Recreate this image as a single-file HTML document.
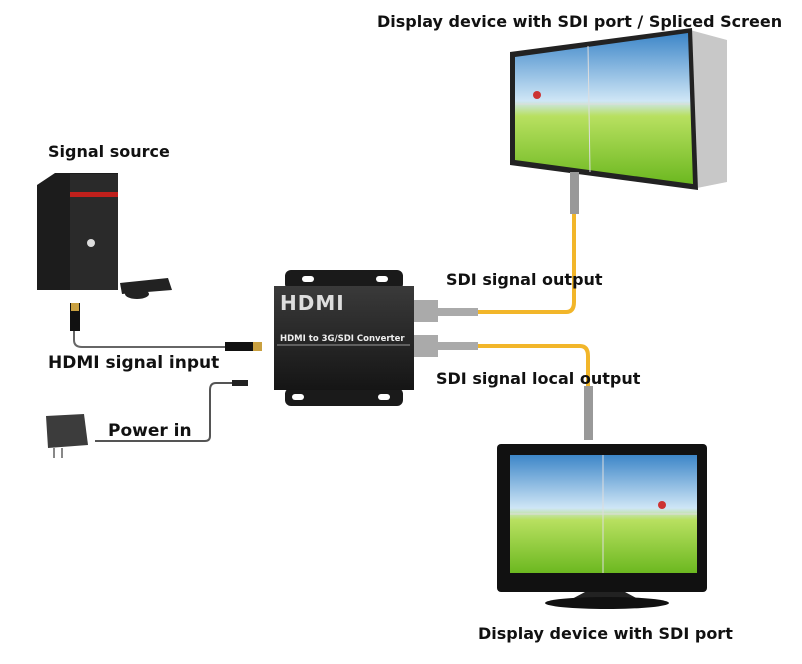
<!DOCTYPE html>
<html><head><meta charset="utf-8"><style>
html,body{margin:0;padding:0;background:#fff;width:802px;height:664px;overflow:hidden}
text{font-family:"DejaVu Sans","Liberation Sans",sans-serif;font-weight:bold;fill:#111}
</style></head><body>
<svg width="802" height="664" viewBox="0 0 802 664" xmlns="http://www.w3.org/2000/svg">
<defs>
<linearGradient id="sky" x1="0" y1="0" x2="0" y2="1">
<stop offset="0" stop-color="#3d86c8"/><stop offset="0.45" stop-color="#cfe6f6"/><stop offset="0.55" stop-color="#b8e060"/><stop offset="1" stop-color="#6cb820"/>
</linearGradient>
<linearGradient id="dev" x1="0" y1="0" x2="0" y2="1">
<stop offset="0" stop-color="#3a3a3a"/><stop offset="1" stop-color="#151515"/>
</linearGradient>
</defs>

<!-- top video wall -->
<polygon points="690,30 727,40 727,182 697,188" fill="#c8c8c8"/>
<polygon points="510,52 692,28 698,190 510,165" fill="#222"/>
<polygon points="515,57 688,33 693,184 515,160" fill="url(#sky)"/>
<line x1="588" y1="46" x2="590" y2="172" stroke="#ddd" stroke-width="1"/>
<line x1="515" y1="104" x2="690" y2="104" stroke="#ddd" stroke-width="1"/>
<circle cx="537" cy="95" r="4" fill="#c33"/>

<!-- yellow cables -->
<path d="M440,312 H566 Q574,312 574,302 V212" fill="none" stroke="#f2b62a" stroke-width="4"/>
<path d="M440,346 H580 Q588,346 588,356 V388" fill="none" stroke="#f2b62a" stroke-width="4"/>
<rect x="570" y="172" width="9" height="42" fill="#999"/>
<rect x="584" y="386" width="9" height="54" fill="#999"/>
<rect x="438" y="308" width="40" height="8" fill="#aaa"/>
<rect x="438" y="342" width="40" height="8" fill="#aaa"/>

<!-- converter -->
<rect x="285" y="270" width="118" height="20" rx="6" fill="#1a1a1a"/>
<rect x="285" y="388" width="118" height="18" rx="6" fill="#1a1a1a"/>
<rect x="302" y="276" width="12" height="6" rx="3" fill="#fff"/>
<rect x="376" y="276" width="12" height="6" rx="3" fill="#fff"/>
<rect x="292" y="394" width="12" height="6" rx="3" fill="#fff"/>
<rect x="378" y="394" width="12" height="6" rx="3" fill="#fff"/>
<rect x="274" y="286" width="140" height="104" fill="url(#dev)"/>
<text x="280" y="310" font-size="20" font-family="Liberation Sans" style="fill:#ddd;letter-spacing:1px">HDMI</text>
<text x="280" y="341" font-size="8.5" style="fill:#eee">HDMI to 3G/SDI Converter</text>
<line x1="277" y1="345" x2="410" y2="345" stroke="#999"/>
<rect x="414" y="300" width="24" height="22" fill="#aaa"/>
<rect x="414" y="335" width="24" height="22" fill="#aaa"/>

<!-- bottom TV -->
<rect x="497" y="444" width="210" height="148" rx="4" fill="#111"/>
<rect x="510" y="455" width="187" height="118" fill="url(#sky)"/>
<line x1="603" y1="455" x2="603" y2="573" stroke="#ddd"/>
<line x1="510" y1="514" x2="697" y2="514" stroke="#ddd"/>
<circle cx="662" cy="505" r="4" fill="#c33"/>
<polygon points="585,592 625,592 640,600 570,600" fill="#222"/>
<ellipse cx="607" cy="603" rx="62" ry="6" fill="#111"/>

<!-- computer -->
<polygon points="37,185 55,173 118,173 118,290 37,290" fill="#1c1c1c"/>
<rect x="70" y="174" width="48" height="116" fill="#2a2a2a"/>
<rect x="70" y="192" width="48" height="5" fill="#c0201c"/>
<circle cx="91" cy="243" r="4" fill="#ddd"/>
<polygon points="120,283 168,278 172,290 122,294" fill="#222"/>
<ellipse cx="137" cy="294" rx="12" ry="5" fill="#222"/>

<!-- HDMI cable -->
<path d="M74,330 V340 Q74,347 82,347 H240" fill="none" stroke="#666" stroke-width="2"/>
<rect x="70" y="303" width="10" height="28" fill="#111"/>
<rect x="71" y="303" width="8" height="8" fill="#c9a040"/>
<rect x="225" y="342" width="28" height="9" fill="#111"/>
<rect x="253" y="342" width="9" height="9" fill="#c9a040"/>

<!-- power -->
<path d="M95,441 H205 Q210,441 210,436 V390 Q210,383 216,383 H232" fill="none" stroke="#555" stroke-width="2"/>
<rect x="232" y="380" width="16" height="6" fill="#222"/>
<polygon points="46,416 84,414 88,445 48,448" fill="#3c3c3c"/>
<rect x="53" y="448" width="2" height="10" fill="#888"/>
<rect x="61" y="448" width="2" height="10" fill="#888"/>

<!-- labels -->
<text x="377" y="27" font-size="16">Display device with SDI port / Spliced Screen</text>
<text x="48" y="157" font-size="16">Signal source</text>
<text x="446" y="285" font-size="16">SDI signal output</text>
<text x="48" y="368" font-size="17">HDMI signal input</text>
<text x="436" y="384" font-size="16">SDI signal local output</text>
<text x="108" y="436" font-size="17">Power in</text>
<text x="478" y="639" font-size="16">Display device with SDI port</text>
</svg>
</body></html>
